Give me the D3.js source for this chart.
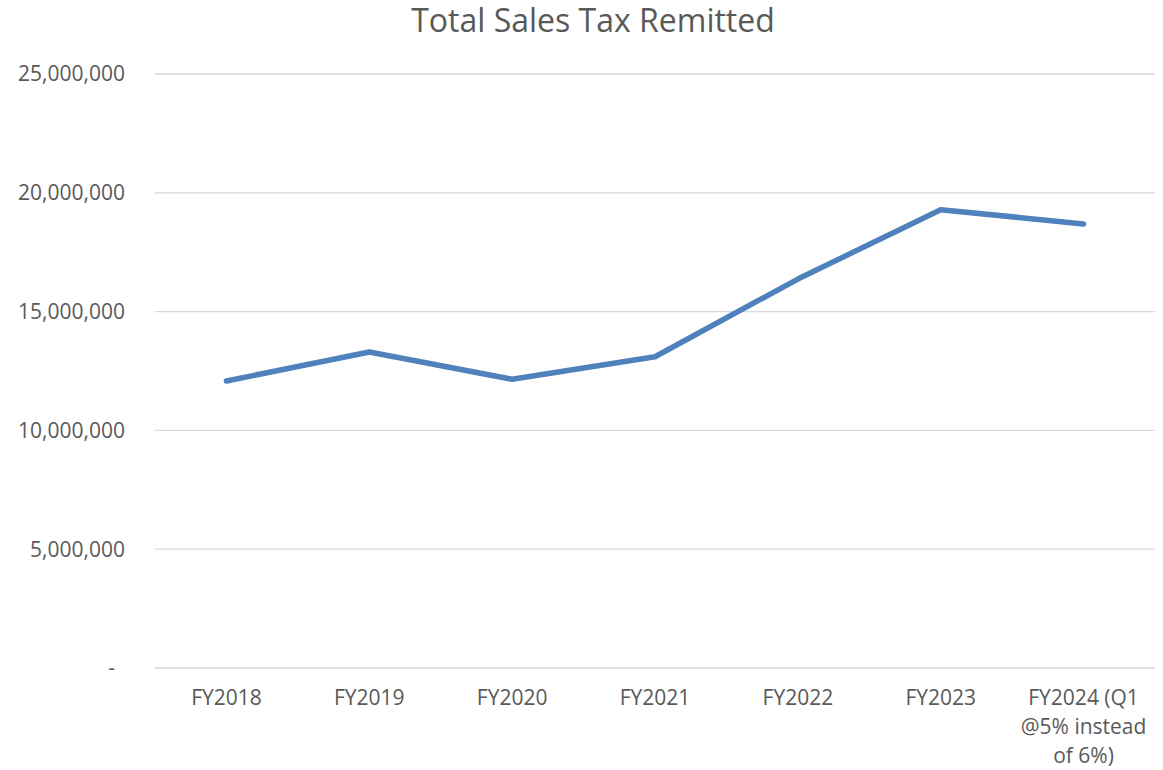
<!DOCTYPE html>
<html>
<head>
<meta charset="utf-8">
<script src="https://cdn.jsdelivr.net/npm/d3@7"></script>
<style>
  body { margin: 0; background: #fff; }
  text { font-family: "Open Sans", "Noto Sans", sans-serif; fill: #595959; }
</style>
</head>
<body>
<script>
const width = 1163;
const height = 770;

// data
const categories = ["FY2018", "FY2019", "FY2020", "FY2021", "FY2022", "FY2023", "FY2024 (Q1 @5% instead of 6%)"];
const categoryLines = [["FY2018"], ["FY2019"], ["FY2020"], ["FY2021"], ["FY2022"], ["FY2023"], ["FY2024 (Q1", "@5% instead", "of 6%)"]];
const salesTax = [12080000, 13300000, 12150000, 13100000, 16370000, 19290000, 18690000];
const yTicks = [0, 5000000, 10000000, 15000000, 20000000, 25000000];

const margin = {top: 74, right: 8, bottom: 102, left: 155};

const svg = d3.select("body").append("svg")
    .attr("width", width)
    .attr("height", height);

const x = d3.scaleBand()
    .domain(categories)
    .range([margin.left, width - margin.right]);

const y = d3.scaleLinear()
    .domain([0, 25000000])
    .range([height - margin.bottom, margin.top]);

// gridlines
svg.append("g")
    .selectAll("line")
    .data(yTicks)
    .enter().append("line")
    .attr("x1", margin.left)
    .attr("x2", width - margin.right)
    .attr("y1", d => y(d))
    .attr("y2", d => y(d))
    .style("stroke", "#d9d9d9")
    .style("stroke-width", 1.3);

// y labels
const fmt = d3.format(",");
svg.append("g")
    .selectAll("text")
    .data(yTicks)
    .enter().append("text")
    .attr("x", d => d === 0 ? 115 : 125)
    .attr("y", d => y(d))
    .attr("dy", "0.35em")
    .attr("text-anchor", "end")
    .style("font-size", "21px")
    .text(d => d === 0 ? "-" : fmt(d));

// x labels
const xl = svg.append("g")
    .selectAll("text")
    .data(categories)
    .enter().append("text")
    .attr("text-anchor", "middle")
    .attr("transform", d => `translate(${x(d) + x.bandwidth() / 2},${y(0) + 37})`)
    .style("font-size", "21px");
xl.selectAll("tspan")
    .data((d, i) => categoryLines[i])
    .enter().append("tspan")
    .attr("x", 0)
    .attr("y", (d, i) => i * 29)
    .text(d => d);

// line
const line = d3.line()
    .x((d, i) => x(categories[i]) + x.bandwidth() / 2)
    .y(d => y(d));

svg.append("path")
    .datum(salesTax)
    .attr("d", line)
    .style("fill", "none")
    .style("stroke", "#4f81bd")
    .style("stroke-width", 5.5)
    .style("stroke-linecap", "round")
    .style("stroke-linejoin", "round");

// title
svg.append("text")
    .attr("x", 593)
    .attr("y", 32)
    .attr("text-anchor", "middle")
    .style("font-size", "32px")
    .text("Total Sales Tax Remitted");
</script>
</body>
</html>
